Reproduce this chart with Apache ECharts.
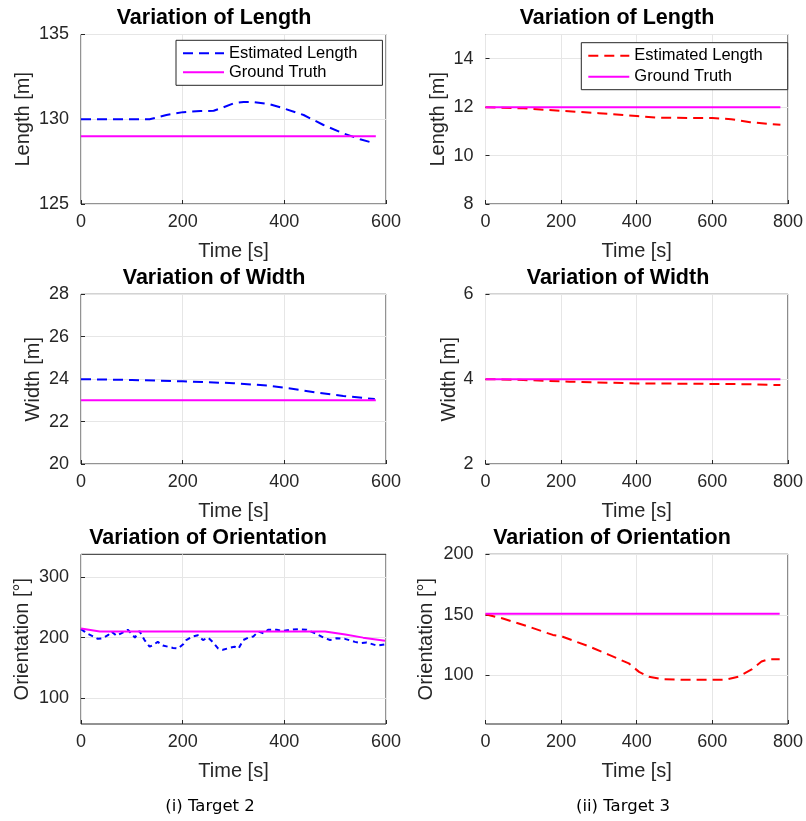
<!DOCTYPE html>
<html><head><meta charset="utf-8">
<script src="https://cdn.jsdelivr.net/npm/echarts@6/dist/echarts.min.js"></script>
<style>html,body{margin:0;padding:0;background:#fff}#c{width:806px;height:821px}</style>
</head><body><div id="c"></div>
<script>
// ---- Target 2 (left column) ----
const t2LenTime = [0,50,100,135,168,201,235,261,280,300,320,339,370,398,438,477,516,549,578];
const t2LenEst  = [130,130,130,130,130.25,130.42,130.48,130.5,130.7,130.94,131.02,131.02,130.9,130.65,130.25,129.66,129.17,128.82,128.58];
const t2LenGtTime = [0,580];
const t2LenGt     = [129,129];

const t2WidTime = [0,100,200,300,366,405,464,516,578];
const t2WidEst  = [24,23.96,23.9,23.81,23.7,23.58,23.37,23.21,23.06];
const t2WidGtTime = [0,580];
const t2WidGt     = [23,23];

const t2OriTime = [0,7,14,24,33,43,53,60,70,79,92,99,106,115,125,135,142,151,161,171,181,191,201,207,220,230,240,250,260,270,279,292,302,310,319,329,339,349,359,368,385,398,411,428,444,461,477,490,503,519,539,552,562,582,598];
const t2OriEst  = [214,210,206,202,198,199,204,210,203,207,213,207,200,211,196,185,188,193,187,185,183,182,189,196,202,204,196,200,192,182,180,183,185,182,196,200,202,210,207,213,213,211,213,214,213,207,200,196,199,198,193,191,192,187,189];
const t2OriGtTime = [0,37,100,480,520,555,598];
const t2OriGt     = [215,210,210,210,205,200,195];

// ---- Target 3 (right column) ----
const t3LenTime = [0,100,200,300,400,450,500,600,650,700,750,780];
const t3LenEst  = [12,11.95,11.85,11.75,11.63,11.57,11.56,11.55,11.5,11.38,11.3,11.27];
const t3LenGtTime = [0,780];
const t3LenGt     = [12,12];

const t3WidTime = [0,100,222,397,572,700,780];
const t3WidEst  = [4.0,3.98,3.94,3.90,3.89,3.88,3.86];
const t3WidGtTime = [0,780];
const t3WidGt     = [4,4];

const t3OriTime = [0,46,117,178,204,274,327,379,406,432,467,528,580,633,669,704,730,750,778];
const t3OriEst  = [150.5,147,140,133.5,132,124,117,110,103,99,97,96.5,96.5,96.5,99,105,111.5,113.5,113.5];
const t3OriGtTime = [0,778];
const t3OriGt     = [151,151];

// tick labels
const oriTicksT2 = [100,200,300];
const oriTicksT3 = [100,150,200];

const F = '"Liberation Sans", Arial, Helvetica, sans-serif';
const DARK = '#262626';
const BLUE = '#0000ff', RED = '#ff0000', MAG = '#ff00ff';

function zip(a,b){ return a.map((v,i)=>[v,b[i]]); }

const grids = [
  {left:81,   top:34.5,  width:305, height:169.5},
  {left:485.5,top:34.5,  width:304.5, height:169.5},
  {left:81,   top:294.3, width:305, height:169.7},
  {left:485.5,top:294.3, width:304.5, height:169.7},
  {left:81,   top:554.3, width:305, height:169.7},
  {left:485.5,top:554.3, width:304.5, height:169.7}
].map(g=>Object.assign(g,{show:true,borderColor:DARK,borderWidth:1,backgroundColor:'#fff',containLabel:false}));

function xAx(gi, max){
  return {type:'value', gridIndex:gi, min:0, max:max, interval:200,
    name:'Time [s]', nameLocation:'middle', nameGap:37,
    nameTextStyle:{fontSize:20,color:DARK,fontFamily:F},
    axisLine:{show:false},
    axisTick:{show:true,inside:true,length:4,lineStyle:{color:DARK}},
    axisLabel:{fontSize:18,color:DARK,margin:9,fontFamily:F},
    splitLine:{show:true,lineStyle:{color:'#e6e6e6',width:1}}};
}
function yAx(gi, name, min, max, interval, gap, custom){
  const ax = {type:'value', gridIndex:gi, min:min, max:max,
    name:name, nameLocation:'middle', nameGap:gap, nameRotate:90,
    nameTextStyle:{fontSize:20,color:DARK,fontFamily:F},
    axisLine:{show:false},
    axisTick:{show:true,inside:true,length:4,lineStyle:{color:DARK}},
    axisLabel:{fontSize:18,color:DARK,margin:12,fontFamily:F,showMaxLabel:interval?((max-min)%interval===0):true},
    splitLine:{show:true,lineStyle:{color:'#e6e6e6',width:1}}};
  if (custom){
    ax.axisLabel.customValues = custom;
    ax.axisTick.customValues = custom;
    ax.axisLabel.showMaxLabel = true;
  } else {
    ax.interval = interval;
  }
  return ax;
}

function ser(name, gi, t, v, color, dash){
  return {type:'line', name:name, xAxisIndex:gi, yAxisIndex:gi, data:zip(t,v),
    symbol:'none', showSymbol:false, silent:true, animation:false,
    lineStyle:{color:color,width:2,type:dash||'solid'}, itemStyle:{color:color}};
}

const stripName = n => n.replace(/ \(T\d\)$/,'');

function legend(names, left, top, gap){
  return {data:names, orient:'vertical', left:left, top:top,
    itemWidth:41, itemHeight:14, itemGap:gap, padding:[4,25,4,6],
    borderColor:DARK, borderWidth:1, backgroundColor:'#fff', borderRadius:0,
    selectedMode:false, formatter:stripName,
    itemStyle:{opacity:0},
    textStyle:{fontSize:16.5,color:'#000',fontFamily:F,lineHeight:18}};
}

function txt(text, x, y, size, bold, family){
  return {type:'text', x:x, y:y, silent:true,
    style:{text:text, fontSize:size, fontWeight:bold?'bold':'normal', fontFamily:family||F,
      fill:'#000', align:'center', verticalAlign:'middle', textAlign:'center', textVerticalAlign:'middle'}};
}

const option = {
  animation:false,
  backgroundColor:'#fff',
  grid: grids,
  xAxis:[xAx(0,600),xAx(1,800),xAx(2,600),xAx(3,800),xAx(4,600),xAx(5,800)],
  yAxis:[
    yAx(0,'Length [m]',125,135,5,48),
    yAx(1,'Length [m]',8,15,2,37),
    yAx(2,'Width [m]',20,28,2,38),
    yAx(3,'Width [m]',2,6,2,24),
    yAx(4,'Orientation [°]',57.5,337.5,null,49,oriTicksT2),
    yAx(5,'Orientation [°]',60,200,null,49,oriTicksT3)
  ],
  legend:[
    legend(['Estimated Length (T2)','Ground Truth (T2)'],176,40.3,1),
    legend(['Estimated Length (T3)','Ground Truth (T3)'],581.3,42.7,3)
  ],
  series:[
    ser('Estimated Length (T2)',0,t2LenTime,t2LenEst,BLUE,[10,6]),
    ser('Ground Truth (T2)',0,t2LenGtTime,t2LenGt,MAG),
    ser('Estimated Length (T3)',1,t3LenTime,t3LenEst,RED,[10,6]),
    ser('Ground Truth (T3)',1,t3LenGtTime,t3LenGt,MAG),
    ser('Width est T2',2,t2WidTime,t2WidEst,BLUE,[10,6]),
    ser('Width gt T2',2,t2WidGtTime,t2WidGt,MAG),
    ser('Width est T3',3,t3WidTime,t3WidEst,RED,[10,6]),
    ser('Width gt T3',3,t3WidGtTime,t3WidGt,MAG),
    ser('Orientation est T2',4,t2OriTime,t2OriEst,BLUE,[5,4]),
    ser('Orientation gt T2',4,t2OriGtTime,t2OriGt,MAG),
    ser('Orientation est T3',5,t3OriTime,t3OriEst,RED,[10,6]),
    ser('Orientation gt T3',5,t3OriGtTime,t3OriGt,MAG)
  ],
  graphic:[
    txt('Variation of Length',214,18.5,21.5,true),
    txt('Variation of Length',617,18.5,21.5,true),
    txt('Variation of Width',214,278,21.5,true),
    txt('Variation of Width',618,278,21.5,true),
    txt('Variation of Orientation',208,538,21.5,true),
    txt('Variation of Orientation',612,538,21.5,true),
    txt('(i) Target 2',210,807,16.5,false,'"DejaVu Sans", sans-serif'),
    txt('(ii) Target 3',623,807,16.5,false,'"DejaVu Sans", sans-serif')
  ]
};

const chart = echarts.init(document.getElementById('c'), null, {renderer:'canvas'});
chart.setOption(option);
</script>
</body></html>
